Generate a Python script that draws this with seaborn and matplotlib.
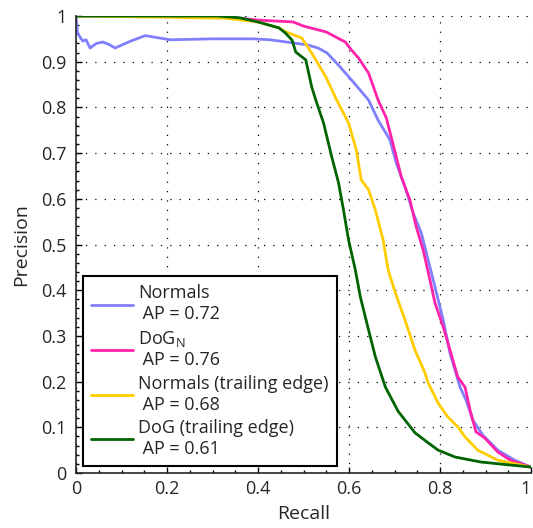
import seaborn as sns
import matplotlib.pyplot as plt
import pandas as pd

# recall / precision
normals_r = [0.0, 0.003, 0.008, 0.015, 0.022, 0.031, 0.045, 0.059, 0.072, 0.086, 0.12, 0.152, 0.207,
             0.30, 0.39, 0.426, 0.463, 0.508, 0.532, 0.552, 0.58, 0.609, 0.643, 0.664, 0.69, 0.704,
             0.723, 0.741, 0.759, 0.774, 0.789, 0.807, 0.822, 0.844, 0.857, 0.872, 0.894, 0.927,
             0.964, 1.0]
normals_p = [1.0, 0.965, 0.955, 0.945, 0.948, 0.93, 0.94, 0.943, 0.938, 0.930, 0.945, 0.957, 0.948,
             0.95, 0.95, 0.948, 0.943, 0.937, 0.93, 0.919, 0.889, 0.856, 0.816, 0.772, 0.729, 0.678,
             0.626, 0.569, 0.525, 0.466, 0.407, 0.335, 0.262, 0.188, 0.160, 0.116, 0.083, 0.050,
             0.028, 0.013]

dogn_r = [0.0, 0.31, 0.40, 0.477, 0.50, 0.55, 0.592, 0.605, 0.621, 0.643, 0.664, 0.682, 0.70,
          0.715, 0.734, 0.748, 0.763, 0.778, 0.789, 0.807, 0.824, 0.839, 0.855, 0.866, 0.879,
          0.898, 0.927, 0.955, 1.0]
dogn_p = [1.0, 1.0, 0.991, 0.987, 0.978, 0.965, 0.943, 0.926, 0.908, 0.875, 0.816, 0.777, 0.707,
          0.648, 0.597, 0.538, 0.488, 0.422, 0.372, 0.320, 0.262, 0.210, 0.188, 0.138, 0.090,
          0.077, 0.046, 0.028, 0.013]

normals_te_r = [0.0, 0.15, 0.33, 0.40, 0.446, 0.462, 0.496, 0.518, 0.549, 0.573, 0.599, 0.616,
                0.627, 0.643, 0.658, 0.675, 0.686, 0.702, 0.723, 0.745, 0.767, 0.774, 0.796, 0.817,
                0.839, 0.855, 0.883, 0.927, 1.0]
normals_te_p = [1.0, 0.998, 0.995, 0.987, 0.974, 0.965, 0.952, 0.919, 0.867, 0.816, 0.766, 0.707,
                0.641, 0.620, 0.575, 0.510, 0.444, 0.394, 0.335, 0.269, 0.219, 0.197, 0.153, 0.123,
                0.101, 0.079, 0.050, 0.028, 0.013]

dog_te_r = [0.0, 0.31, 0.36, 0.40, 0.446, 0.46, 0.475, 0.483, 0.505, 0.518, 0.527, 0.544, 0.562,
            0.577, 0.588, 0.599, 0.614, 0.625, 0.643, 0.658, 0.68, 0.708, 0.745, 0.774, 0.796,
            0.833, 0.89, 0.949, 1.0]
dog_te_p = [1.0, 1.0, 0.996, 0.987, 0.974, 0.963, 0.947, 0.921, 0.904, 0.845, 0.816, 0.766, 0.692,
            0.635, 0.575, 0.510, 0.444, 0.385, 0.313, 0.254, 0.188, 0.135, 0.088, 0.066, 0.050,
            0.035, 0.024, 0.018, 0.013]

labels = ["Normals\n AP = 0.72", "DoG$_{\\mathrm{N}}$\n AP = 0.76",
          "Normals (trailing edge)\n AP = 0.68", "DoG (trailing edge)\n AP = 0.61"]
colors = ["#8080ff", "#ff22aa", "#ffcc00", "#006400"]
series = [(normals_r, normals_p), (dogn_r, dogn_p), (normals_te_r, normals_te_p), (dog_te_r, dog_te_p)]

frames = []
for lab, (r, p) in zip(labels, series):
    frames.append(pd.DataFrame({"Recall": r, "Precision": p, "method": lab}))
df = pd.concat(frames, ignore_index=True)

sns.set_style("ticks")
plt.rcParams['font.family'] = ['Open Sans', 'DejaVu Sans']
plt.rcParams['mathtext.fontset'] = 'custom'
plt.rcParams['mathtext.rm'] = 'Open Sans'

fig = plt.figure(figsize=(5.33, 5.28), dpi=100)
ax = fig.add_axes([76 / 533, 55 / 528, 455 / 533, 457 / 528])

sns.lineplot(data=df, x="Recall", y="Precision", hue="method", palette=colors,
             hue_order=labels, sort=False, estimator=None, linewidth=2, ax=ax)

ax.set_xlim(0, 1)
ax.set_ylim(0, 1)
ax.set_xticks([0, 0.2, 0.4, 0.6, 0.8, 1])
ax.set_xticklabels(["0", "0.2", "0.4", "0.6", "0.8", "1"])
ax.get_xticklabels()[-1].set_horizontalalignment("right")
ax.set_yticks([i / 10 for i in range(11)])
ax.set_yticklabels(["0"] + [f"0.{i}" for i in range(1, 10)] + ["1"])
ax.minorticks_on()
ax.tick_params(which="both", direction="in", labelsize=13, width=1, color="black")
ax.tick_params(which="major", length=4)
ax.tick_params(which="minor", length=2)
ax.tick_params(axis="y", which="major", pad=7)
ax.tick_params(axis="x", which="major", pad=5)
ax.grid(True, which="major", linestyle=(0, (1, 6.5)), color="black", linewidth=0.9)
ax.set_xlabel("Recall", fontsize=14, labelpad=5)
ax.set_ylabel("Precision", fontsize=14, labelpad=8)
ax.spines["top"].set_visible(False)
ax.spines["right"].set_visible(False)
for s in ["left", "bottom"]:
    ax.spines[s].set_linewidth(1.2)

leg = ax.legend(loc="lower left", bbox_to_anchor=(0.0153, 0.0153), borderaxespad=0,
                fontsize=13, frameon=True, fancybox=False, edgecolor="black",
                handlelength=2.3, labelspacing=0.3, borderpad=0.45, handletextpad=0.3)
leg.get_frame().set_linewidth(1.5)
leg.get_frame().set_alpha(1)

fig.savefig("out.png", dpi=100)
